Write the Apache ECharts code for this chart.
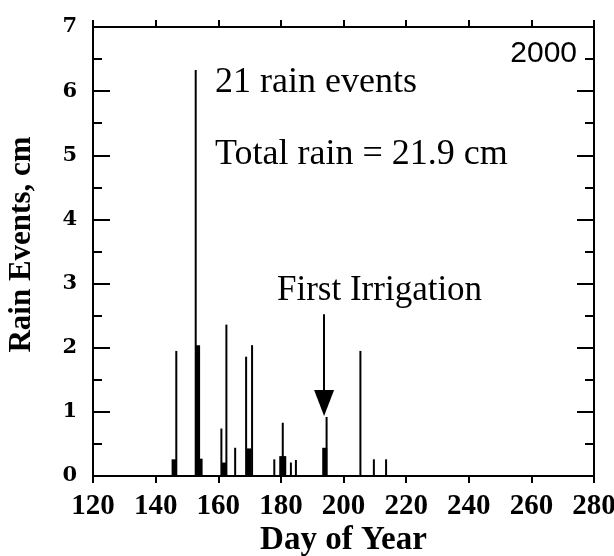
<!DOCTYPE html>
<html>
<head>
<meta charset="utf-8">
<script src="https://cdn.jsdelivr.net/npm/echarts@6/dist/echarts.min.js"></script>
<style>html,body{margin:0;padding:0;background:#fff;}#c{width:614px;height:556px;}</style>
</head>
<body>
<div id="c"></div>
<script>
// Thin-line rain events: day of year, rain (cm)
var thinDays   = [146.6, 152.8, 161.0, 162.6, 165.4, 168.9, 170.8, 177.9, 180.6, 183.2, 184.8, 194.6, 205.4, 209.7, 213.6];
var thinRain   = [1.95,  6.33,  0.74,  2.36,  0.44,  1.86,  2.04,  0.26,  0.83,  0.21,  0.25,  0.92,  1.95,  0.26,  0.26];
// Thick rain events
var thickDays  = [145.9, 153.4, 154.2, 161.7, 169.8, 194.0];
var thickRain  = [0.26,  2.04,  0.27,  0.21,  0.43,  0.44];
// Boxed event (block from base to top)
var boxDays    = [180.6];
var boxBase    = [0.52];
var boxTop     = [0.83];
// Irrigation arrow (day, from, to)
var arrowDay = 193.8, arrowFrom = 2.52, arrowTo = 1.14;
// Axis ticks
var xTicks = [120, 140, 160, 180, 200, 220, 240, 260, 280];
var yTicks = [0, 1, 2, 3, 4, 5, 6, 7];

function pairs(xs, ys) { return xs.map(function (x, i) { return [x, ys[i]]; }); }

var chart = echarts.init(document.getElementById('c'), null, {renderer: 'canvas'});
var serif = '"Liberation Serif", "Times New Roman", serif';
var xMin = xTicks[0], xMax = xTicks[xTicks.length - 1];
var yMin = yTicks[0], yMax = yTicks[yTicks.length - 1];

var baseX = {
  type: 'value', min: xMin, max: xMax, interval: 20,
  splitLine: {show: false},
  axisLine: {show: true, onZero: false, lineStyle: {color: '#000', width: 2}},
  axisTick: {show: true, inside: false, length: 7, lineStyle: {color: '#000', width: 2}}
};
var baseY = {
  type: 'value', min: yMin, max: yMax, interval: 1,
  splitLine: {show: false},
  axisLine: {show: true, onZero: false, lineStyle: {color: '#000', width: 2}},
  axisTick: {show: true, inside: true, length: 17, lineStyle: {color: '#000', width: 2}},
  minorTick: {show: true, splitNumber: 2, length: 9, lineStyle: {color: '#000', width: 2}},
  minorSplitLine: {show: false}
};

var option = {
  animation: false,
  backgroundColor: '#fff',
  grid: {left: 93, right: 20, top: 27, bottom: 80, containLabel: false, outerBoundsMode: 'none'},
  xAxis: [
    Object.assign({}, baseX, {
      position: 'bottom',
      name: 'Day of Year', nameLocation: 'middle', nameGap: 48, nameMoveOverlap: false,
      nameTextStyle: {fontFamily: serif, fontWeight: 'bold', fontSize: 33, color: '#000'},
      axisLabel: {show: true, margin: 16, fontFamily: serif, fontWeight: 'bold', fontSize: 29, color: '#000'}
    }),
    Object.assign({}, baseX, {position: 'top', axisLabel: {show: false}}),
    {type: 'value', min: xMin, max: xMax, show: false, position: 'bottom', axisLine: {onZero: false}}
  ],
  yAxis: [
    Object.assign({}, baseY, {
      position: 'left',
      name: 'Rain Events, cm', nameLocation: 'middle', nameGap: 56, nameRotate: 90, nameMoveOverlap: false,
      nameTextStyle: {fontFamily: serif, fontWeight: 'bold', fontSize: 31, color: '#000', padding: [0, 0, 0, 14]},
      axisLabel: {show: true, margin: 16, fontFamily: '"DejaVu Serif", serif', fontWeight: 'bold', fontSize: 21, color: '#000'}
    }),
    Object.assign({}, baseY, {position: 'right', axisLabel: {show: false}})
  ],
  series: [
    {
      type: 'bar', name: 'thin', xAxisIndex: 0, yAxisIndex: 0,
      barWidth: 2, itemStyle: {color: '#000'},
      data: pairs(thinDays, thinRain),
      markLine: {
        silent: true, symbol: ['none', 'triangle'], symbolSize: [20, 26],
        label: {show: false},
        lineStyle: {color: '#000', width: 2, type: 'solid'},
        data: [[{coord: [arrowDay, arrowFrom]}, {coord: [arrowDay, arrowTo]}]]
      }
    },
    {
      type: 'bar', name: 'thick', xAxisIndex: 1, yAxisIndex: 0,
      barWidth: 5, itemStyle: {color: '#000'},
      data: pairs(thickDays, thickRain)
    },
    {
      type: 'bar', name: 'boxBase', xAxisIndex: 2, yAxisIndex: 0, stack: 'box',
      barWidth: 7, itemStyle: {color: 'rgba(0,0,0,0)'},
      data: pairs(boxDays, boxBase)
    },
    {
      type: 'bar', name: 'box', xAxisIndex: 2, yAxisIndex: 0, stack: 'box',
      barWidth: 7, itemStyle: {color: '#000'},
      data: boxDays.map(function (d, i) { return [d, boxTop[i] - boxBase[i]]; })
    }
  ],
  graphic: [
    {type: 'text', left: 215, top: 65, style: {text: '21 rain events', font: '36px "Liberation Serif", serif', fill: '#000'}},
    {type: 'text', left: 215, top: 137, style: {text: 'Total rain = 21.9 cm', font: '36px "Liberation Serif", serif', fill: '#000'}},
    {type: 'text', right: 37, top: 39, style: {text: '2000', font: '30px "Liberation Sans", sans-serif', fill: '#000'}},
    {type: 'text', left: 277, top: 273, style: {text: 'First Irrigation', font: '35px "Liberation Serif", serif', fill: '#000'}}
  ]
};
chart.setOption(option);
</script>
</body>
</html>
